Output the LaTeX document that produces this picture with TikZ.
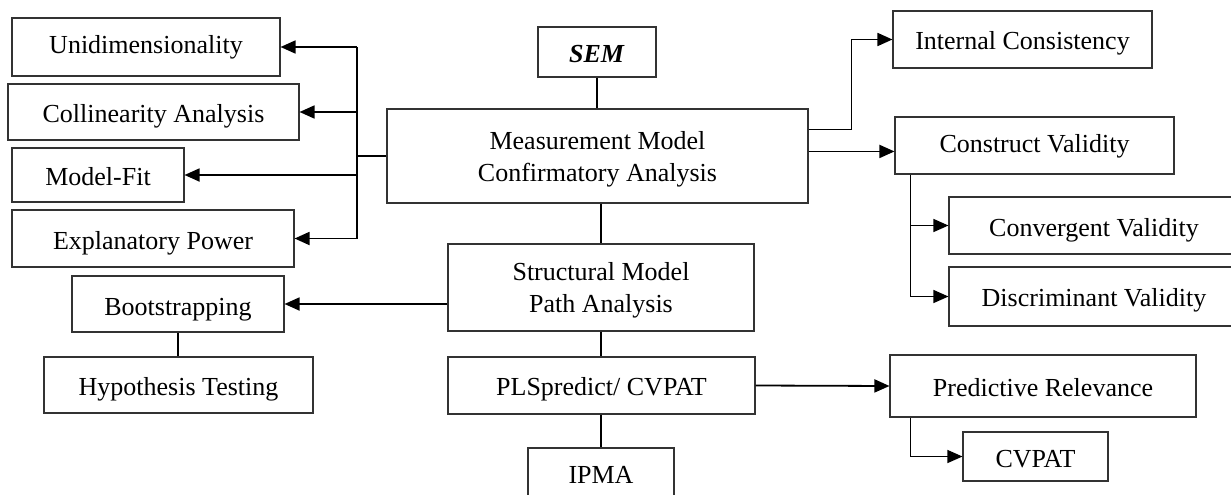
\documentclass[tikz,border=0pt]{standalone}
\usepackage{fontspec}
\setmainfont{Liberation Serif}
\usetikzlibrary{arrows.meta}

\begin{document}
\begin{tikzpicture}[
  x=1pt, y=-1pt,
  font=\fontsize{26pt}{31.5pt}\selectfont,
  box/.style={draw=black!80, line width=1.1pt, inner sep=0pt, align=center, fill=white,
              text height=20pt, text depth=0pt},
  bl/.style={text height=#1},
  twoline/.style={text height={}, text depth={}},
  link/.style={draw=black, line width=1.8pt},
  thinlink/.style={draw=black, line width=1.2pt},
  arr/.style={link, -{Triangle[length=15pt,width=13pt]}},
  thinarr/.style={thinlink, -{Triangle[length=15pt,width=13pt]}}
]
\useasboundingbox (0,0) rectangle (1231,495);
\clip (0,0) rectangle (1231,495);

% central column
\node[box, bl=21pt, minimum width=118pt, minimum height=50pt] (sem) at (597,52) {\textbf{\textit{SEM}}};
\node[box, twoline, minimum width=421pt, minimum height=94pt] (mm) at (597.5,156)
  {\rule{0pt}{25pt}Measurement Model\\Confirmatory Analysis};
\node[box, twoline, minimum width=306pt, minimum height=87pt] (sm) at (601,287.5)
  {\rule{0pt}{24pt}Structural Model\\Path Analysis};
\node[box, minimum width=307pt, minimum height=57pt] (pls) at (601.5,385.5) {PLSpredict/ CVPAT};
\node[box, bl=16pt, minimum width=146pt, minimum height=54pt] (ipma) at (601,475) {IPMA};

% left column
\node[box, bl=12pt, minimum width=268pt, minimum height=58pt] (uni) at (146,47) {Unidimensionality};
\node[box, minimum width=291pt, minimum height=56pt] (col) at (153.5,112) {Collinearity Analysis};
\node[box, minimum width=172pt, minimum height=54pt] (fit) at (98,175) {Model-Fit};
\node[box, bl=22pt, minimum width=282pt, minimum height=57pt] (exp) at (153,238.5) {Explanatory Power};
\node[box, bl=22pt, minimum width=212pt, minimum height=56pt] (boot) at (178,304) {Bootstrapping};
\node[box, minimum width=269pt, minimum height=56pt] (hyp) at (178.5,385) {Hypothesis Testing};

% right column
\node[box, minimum width=259pt, minimum height=57pt] (ic) at (1022.5,39.5) {Internal Consistency};
\node[box, bl=14pt, minimum width=279pt, minimum height=57pt] (cv) at (1034.5,145.5) {Construct Validity};
\node[box, bl=22pt, minimum width=290pt, minimum height=57pt] (conv) at (1094,225.5) {Convergent Validity};
\node[box, bl=19pt, minimum width=290pt, minimum height=59pt] (disc) at (1094,296.5) {Discriminant Validity};
\node[box, minimum width=306pt, minimum height=62pt] (pr) at (1043,386) {Predictive Relevance};
\node[box, bl=21pt, minimum width=145pt, minimum height=49pt] (cvpat) at (1035.5,456.5) {CVPAT};

% central spine
\draw[link] (sem.south) -- (sem.south |- mm.north);
\draw[link] (mm.south -| sm.north) -- (sm.north);
\draw[link] (sm.south) -- (sm.south |- pls.north);
\draw[link] (pls.south -| ipma.north) -- (ipma.north);

% left bus from the measurement model
\coordinate (busT) at (357,47);
\coordinate (busB) at (357,238.5);
\draw[link] (mm.west) -- (mm.west -| busT);
\draw[link] (busT) -- (busB);
\draw[arr] (busT) -- (uni.east);
\draw[arr] (busT |- col.east) -- (col.east);
\draw[arr] (busT |- fit.east) -- (fit.east);
\draw[arr] (busB) -- (exp.east);

% structural model to bootstrapping
\draw[arr] (sm.west |- boot.east) -- (boot.east);
\draw[thinlink] (boot.south) -- (boot.south |- hyp.north);

% measurement model to the right
\coordinate (mmR1) at ([yshift=-21pt]mm.north east);
\coordinate (mmR2) at ([yshift=-43pt]mm.north east);
\draw[arr] (mmR1) -- ++(43pt,0) |- (ic.west);
\draw[arr] (mmR2) -- (mmR2 -| cv.west);

% construct validity branches
\coordinate (cvX) at ([xshift=16pt]cv.south west);
\draw[thinarr] (cvX) |- (disc.west);
\draw[thinarr] (cvX |- conv.west) -- (conv.west);

% prediction branch
\draw[arr] (pls.east) -- (pr.west);
\draw[thinarr] ([xshift=21pt]pr.south west) |- (cvpat.west);
\end{tikzpicture}
\end{document}
